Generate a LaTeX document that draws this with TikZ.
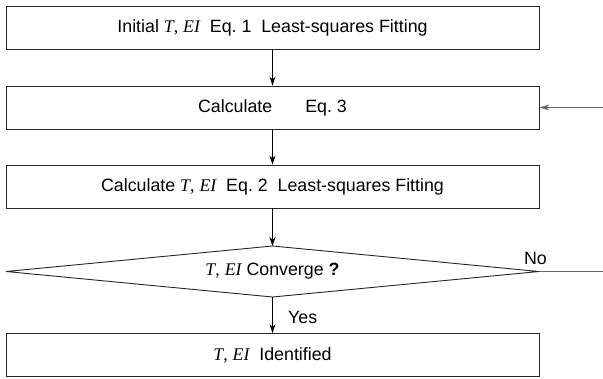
\documentclass[tikz,border=0pt]{standalone}
\usepackage{fontspec}
\setmainfont{Liberation Sans}
\newfontfamily\serifit{Liberation Serif}
\usetikzlibrary{arrows.meta}
\frenchspacing
\newcommand{\teiv}{{\serifit\itshape T}{\serifit,} {\serifit\itshape EI}}
\begin{document}
\begin{tikzpicture}[x=1pt,y=-1pt,
  box/.style={draw=black!85, line width=0.9pt, minimum width=533pt, minimum height=43pt, inner sep=0pt, font=\fontsize{17.8}{20}\selectfont},
  dectext/.style={inner sep=0pt, font=\fontsize{17.8}{20}\selectfont},
  decline/.style={draw=black!85, line width=0.9pt},
  flow/.style={draw=black, line width=0.9pt, -{Stealth[length=9pt,width=6pt]}},
  back/.style={draw=black!60, line width=0.9pt},
  lbl/.style={font=\fontsize{17.8}{20}\selectfont, inner sep=0pt}]
\useasboundingbox (0,0) rectangle (603,378);
\node[box] (b1) at (272.5,27.5) {Initial \teiv\ \ Eq. 1\ \ Least-squares Fitting};
\node[box] (b2) at (272.5,107.5) {Calculate\hspace{33pt}Eq. 3};
\node[box] (b3) at (272.5,186.5) {Calculate \teiv\ \ Eq. 2\ \ Least-squares Fitting};
\node[dectext] (d) at (272.5,271.5) {\teiv\ Converge \textbf{?}};
\coordinate (dn) at (272.5,246);
\coordinate (ds) at (272.5,297);
\coordinate (de) at (539,271.5);
\coordinate (dw) at (6,271.5);
\draw[decline] (dw) -- (dn) -- (de) -- (ds) -- cycle;
\node[box] (b4) at (272.5,355) {\teiv\ \ Identified};
\coordinate (r1) at (603,107.5);
\coordinate (r2) at (603,271.5);
\draw[flow] (b1.south) -- (b2.north);
\draw[flow] (b2.south) -- (b3.north);
\draw[flow] (b3.south) -- (dn);
\draw[flow] (ds) -- (b4.north);
\draw[back, -{Stealth[length=10pt,width=6pt]}] (r1) -- (b2.east);
\draw[back] (de) -- (r2);
\node[lbl, anchor=west] (yes) at (288,317) {Yes};
\node[lbl] (no) at (535.5,258) {No};
\end{tikzpicture}
\end{document}
